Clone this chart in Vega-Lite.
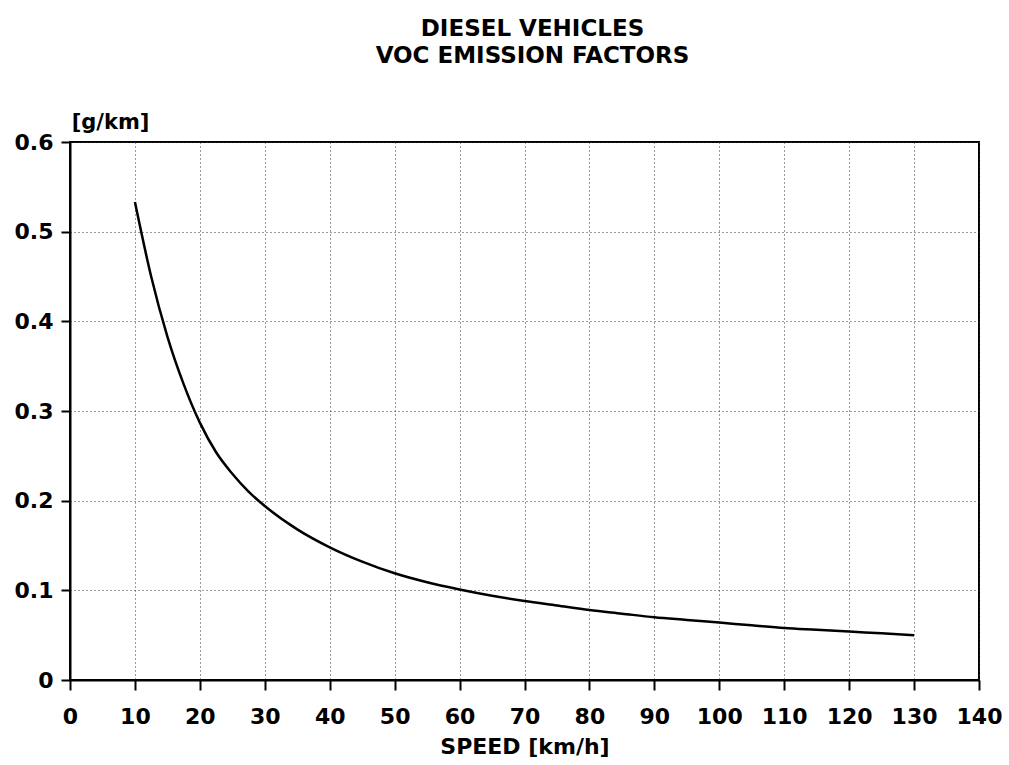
{
  "$schema": "https://vega.github.io/schema/vega-lite/v6.json",
  "width": 909,
  "height": 538,
  "autosize": "none",
  "padding": {"left": 70, "top": 142, "right": 30, "bottom": 85},
  "background": "white",
  "title": {
    "text": ["DIESEL VEHICLES", "VOC EMISSION FACTORS"],
    "font": "DejaVu Sans",
    "fontWeight": "bold",
    "fontSize": 23,
    "lineHeight": 27,
    "color": "black",
    "anchor": "middle",
    "frame": "group",
    "dx": 8,
    "offset": 43
  },
  "data": {
    "values": [
      {"speed": 10, "voc": 0.533},
      {"speed": 12.5, "voc": 0.45},
      {"speed": 15, "voc": 0.383},
      {"speed": 17.5, "voc": 0.33},
      {"speed": 20, "voc": 0.287},
      {"speed": 22.5, "voc": 0.254},
      {"speed": 25, "voc": 0.23},
      {"speed": 27.5, "voc": 0.21},
      {"speed": 30, "voc": 0.194},
      {"speed": 35, "voc": 0.168},
      {"speed": 40, "voc": 0.148},
      {"speed": 45, "voc": 0.132},
      {"speed": 50, "voc": 0.119},
      {"speed": 55, "voc": 0.109},
      {"speed": 60, "voc": 0.101},
      {"speed": 65, "voc": 0.094},
      {"speed": 70, "voc": 0.088},
      {"speed": 75, "voc": 0.083},
      {"speed": 80, "voc": 0.078},
      {"speed": 85, "voc": 0.074},
      {"speed": 90, "voc": 0.07},
      {"speed": 95, "voc": 0.067},
      {"speed": 100, "voc": 0.064},
      {"speed": 105, "voc": 0.061},
      {"speed": 110, "voc": 0.058},
      {"speed": 115, "voc": 0.056},
      {"speed": 120, "voc": 0.054},
      {"speed": 125, "voc": 0.052},
      {"speed": 130, "voc": 0.05}
    ]
  },
  "mark": {"type": "line", "color": "black", "strokeWidth": 2.5, "interpolate": "monotone"},
  "encoding": {
    "x": {
      "field": "speed",
      "type": "quantitative",
      "scale": {"domain": [0, 140], "nice": false},
      "axis": {
        "values": [0, 10, 20, 30, 40, 50, 60, 70, 80, 90, 100, 110, 120, 130, 140],
        "title": "SPEED [km/h]",
        "titleFont": "DejaVu Sans",
        "titleFontWeight": "bold",
        "titleFontSize": 22,
        "titleColor": "black",
        "titlePadding": 9,
        "labelFont": "DejaVu Sans",
        "labelFontWeight": "bold",
        "labelFontSize": 22,
        "labelColor": "black",
        "labelPadding": 16,
        "labelFlush": false,
        "labelOverlap": false,
        "tickSize": 10,
        "tickWidth": 2,
        "tickColor": "black",
        "domainColor": "black",
        "domainWidth": 2,
        "grid": true,
        "gridColor": "#333333",
        "gridDash": [1, 3],
        "gridWidth": 1
      }
    },
    "y": {
      "field": "voc",
      "type": "quantitative",
      "scale": {"domain": [0, 0.6], "nice": false},
      "axis": {
        "values": [0, 0.1, 0.2, 0.3, 0.4, 0.5, 0.6],
        "format": ".1~f",
        "title": "[g/km]",
        "titleAngle": 0,
        "titleX": 40,
        "titleY": -20,
        "titleAlign": "center",
        "titleBaseline": "middle",
        "titleFont": "DejaVu Sans",
        "titleFontWeight": "bold",
        "titleFontSize": 21,
        "titleColor": "black",
        "labelFont": "DejaVu Sans",
        "labelFontWeight": "bold",
        "labelFontSize": 22,
        "labelColor": "black",
        "labelPadding": 8,
        "labelFlush": false,
        "labelOverlap": false,
        "tickSize": 9,
        "tickWidth": 2,
        "tickColor": "black",
        "domainColor": "black",
        "domainWidth": 2,
        "grid": true,
        "gridColor": "#333333",
        "gridDash": [1, 3],
        "gridWidth": 1
      }
    }
  },
  "config": {
    "view": {"stroke": "black", "strokeWidth": 2}
  }
}
